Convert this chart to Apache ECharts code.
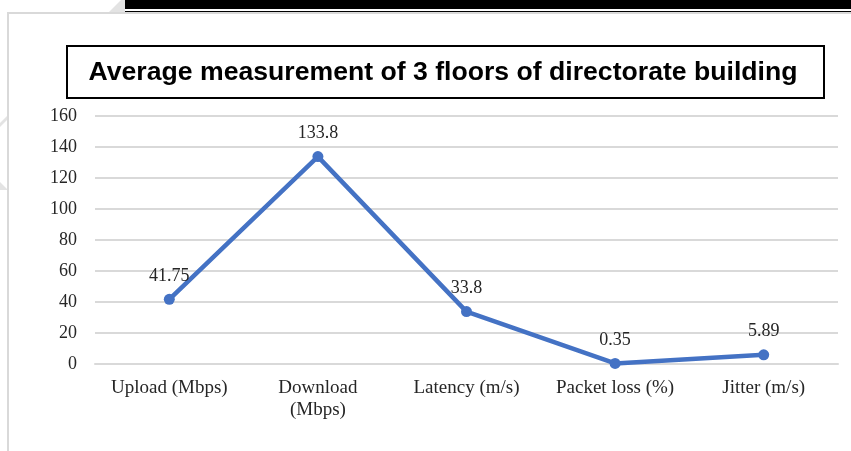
<!DOCTYPE html>
<html>
<head>
<meta charset="utf-8">
<script src="https://cdn.jsdelivr.net/npm/echarts@6/dist/echarts.min.js"></script>
<style>
html,body{margin:0;padding:0;background:#fff;}
#c{width:851px;height:451px;}
</style>
</head>
<body>
<div id="c"></div>
<script>
var titleText = 'Average measurement of 3 floors of directorate building';
var categories = ['Upload (Mbps)', 'Download\n(Mbps)', 'Latency (m/s)', 'Packet loss (%)', 'Jitter (m/s)'];
var values = [41.75, 133.8, 33.8, 0.35, 5.89];
var yTicks = [0, 20, 40, 60, 80, 100, 120, 140, 160];

var chart = echarts.init(document.getElementById('c'), null, {renderer: 'canvas'});

var titleFont = 'bold 26px "Liberation Sans", Arial, sans-serif';
var cv = document.createElement('canvas').getContext('2d');
cv.font = titleFont;
var tw = cv.measureText(titleText).width;
var titleScale = 709 / tw;
var serif = '"Liberation Serif", "Times New Roman", serif';

chart.setOption({
  backgroundColor: '#ffffff',
  animation: false,
  graphic: [
    {type: 'polygon', z: -10, shape: {points: [[108,13],[121,0],[125,0],[125,13]]}, style: {fill: '#e3e3e3'}},
    {type: 'polygon', z: -10, shape: {points: [[0,123],[8,115],[8,119],[0,127]]}, style: {fill: '#e3e3e3'}},
    {type: 'polygon', z: -10, shape: {points: [[0,182],[8,190],[0,190]]}, style: {fill: '#e3e3e3'}},
    {type: 'rect', z: -5, shape: {x: 125, y: 0, width: 726, height: 9}, style: {fill: '#000'}},
    {type: 'rect', z: -5, shape: {x: 125, y: 11, width: 726, height: 1}, style: {fill: '#000'}},
    {type: 'polyline', z: -5, shape: {points: [[8,452],[8,13],[852,13]]}, style: {stroke: '#d9d9d9', lineWidth: 2, fill: null}},
    {type: 'rect', z: 5, shape: {x: 67, y: 46, width: 757, height: 52}, style: {fill: '#fff', stroke: '#000', lineWidth: 2}},
    {type: 'text', z: 6, x: 443, y: 73, scaleX: titleScale, scaleY: 1,
     style: {text: titleText, font: titleFont, fill: '#000', textAlign: 'center', textVerticalAlign: 'middle'}}
  ],
  grid: {left: 95, right: 13, top: 116, bottom: 87, containLabel: false},
  xAxis: {
    type: 'category',
    data: categories,
    boundaryGap: true,
    axisLine: {show: true, lineStyle: {color: '#d9d9d9', width: 2}},
    axisTick: {show: false},
    axisLabel: {
      interval: 0, margin: 13, color: '#262626',
      fontFamily: serif, fontSize: 19, lineHeight: 22
    }
  },
  yAxis: {
    type: 'value', min: yTicks[0], max: yTicks[yTicks.length - 1], interval: 20,
    axisLine: {show: false}, axisTick: {show: false},
    splitLine: {lineStyle: {color: '#d9d9d9', width: 2}},
    axisLabel: {margin: 18, color: '#262626', fontFamily: serif, fontSize: 18}
  },
  series: [{
    type: 'line',
    data: values,
    color: '#4472C4',
    lineStyle: {color: '#4472C4', width: 4.5},
    symbol: 'circle', symbolSize: 11,
    itemStyle: {color: '#4472C4'},
    label: {show: true, position: 'top', distance: 9, color: '#262626',
      fontFamily: serif, fontSize: 18}
  }]
});
</script>
</body>
</html>
